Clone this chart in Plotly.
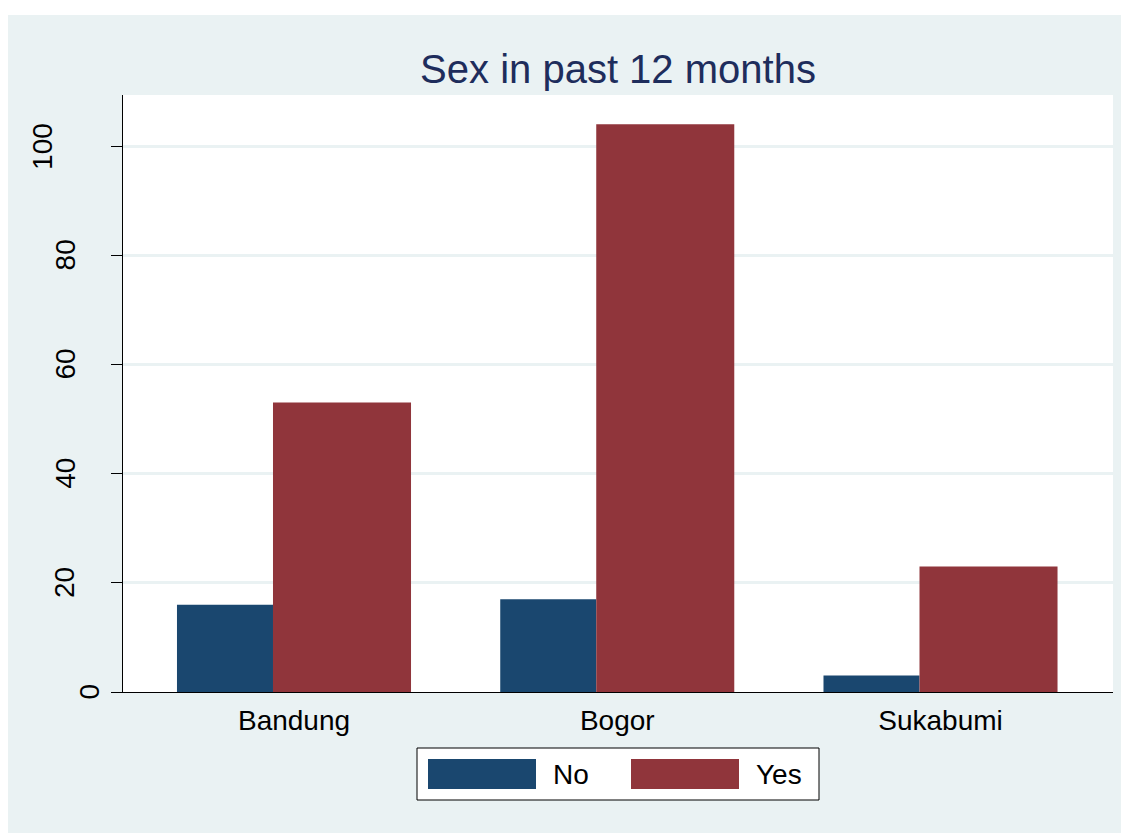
import plotly.graph_objects as go

# data
regions = ['Bandung', 'Bogor', 'Sukabumi']
answers = ['No', 'Yes']
counts_no = [16, 17, 3]
counts_yes = [53, 104, 23]
y_ticks = [0, 20, 40, 60, 80, 100]
chart_title = 'Sex in past 12 months'

NAVY = '#1A476F'
MAROON = '#90353B'
BG = '#EAF2F3'
TITLE_COLOR = '#1E2D5C'
FONT = 'Liberation Sans, Arial, Helvetica, sans-serif'

# figure geometry (pixels)
W, H = 1121, 825
ML, MR, MT, MB = 115, 16, 87, 141
PW = W - ML - MR
PH = H - MT - MB


def paper_x(px):
    """plot-relative pixel -> paper x"""
    return px / PW


def paper_y(py_below):
    """pixels below the x axis -> paper y"""
    return -py_below / PH


fig = go.Figure()

series = [(answers[0], counts_no, NAVY, -0.362, 0.297),
          (answers[1], counts_yes, MAROON, -0.065, 0.427)]

for name, values, color, offset, width in series:
    fig.add_bar(
        x=regions,
        y=values,
        name=name,
        marker=dict(color=color, line_width=0),
        offset=offset,
        width=width,
        showlegend=False,
    )

fig.update_layout(
    width=W,
    height=H,
    margin=dict(l=ML, r=MR, t=MT, b=MB, pad=0),
    paper_bgcolor=BG,
    plot_bgcolor='white',
    barmode='overlay',
    font=dict(family=FONT, size=28, color='black'),
    title=dict(
        text=chart_title,
        x=0.5, xref='paper', xanchor='center',
        y=1 - 61 / H, yref='container', yanchor='middle',
        font=dict(size=40, color=TITLE_COLOR, family=FONT),
    ),
)

fig.update_xaxes(
    type='category',
    range=[-0.529, 2.5336],
    showline=True, linecolor='black', linewidth=1,
    ticks='', showgrid=False, zeroline=False,
    ticklabelstandoff=3,
    tickfont=dict(size=28, color='black'),
)

fig.update_yaxes(
    range=[0, 109.34],
    tickvals=y_ticks,
    showticklabels=False,
    ticks='outside', ticklen=11, tickcolor='black', tickwidth=1,
    showline=True, linecolor='black', linewidth=1,
    showgrid=True, gridcolor=BG, gridwidth=3,
    zeroline=False,
)

# rotated y tick labels, placed like the original
for v in y_ticks:
    n = len(str(v))
    fig.add_annotation(
        x=0, xref='paper', y=v, yref='y',
        text=str(v), textangle=-90, showarrow=False,
        xanchor='center', yanchor='middle',
        xshift=-34.5 - 23.3 * (n - 1),
        font=dict(size=28, color='black'),
    )

# white strip along the top edge
fig.add_shape(type='rect', xref='paper', yref='paper',
              x0=-ML / PW - 0.02, x1=1 + MR / PW + 0.02,
              y0=1 + (MT - 7) / PH, y1=1 + MT / PH + 0.02,
              fillcolor='white', line_width=0)

# legend box drawn by hand (big Stata-style keys)
fig.add_shape(type='rect', xref='paper', yref='paper',
              x0=paper_x(294), x1=paper_x(696),
              y0=paper_y(108), y1=paper_y(56),
              fillcolor='white', line=dict(color='black', width=1))

for i, (name, _, color, _, _) in enumerate(series):
    sx = 305 + i * 203
    fig.add_shape(type='rect', xref='paper', yref='paper',
                  x0=paper_x(sx), x1=paper_x(sx + 108),
                  y0=paper_y(97), y1=paper_y(67),
                  fillcolor=color, line_width=0)
    fig.add_annotation(
        x=paper_x(sx + 123), xref='paper', y=paper_y(82), yref='paper',
        text=name, showarrow=False, xanchor='left', yanchor='middle',
        font=dict(size=28, color='black'),
    )

fig.write_html('out.html', config=dict(displayModeBar=False))
